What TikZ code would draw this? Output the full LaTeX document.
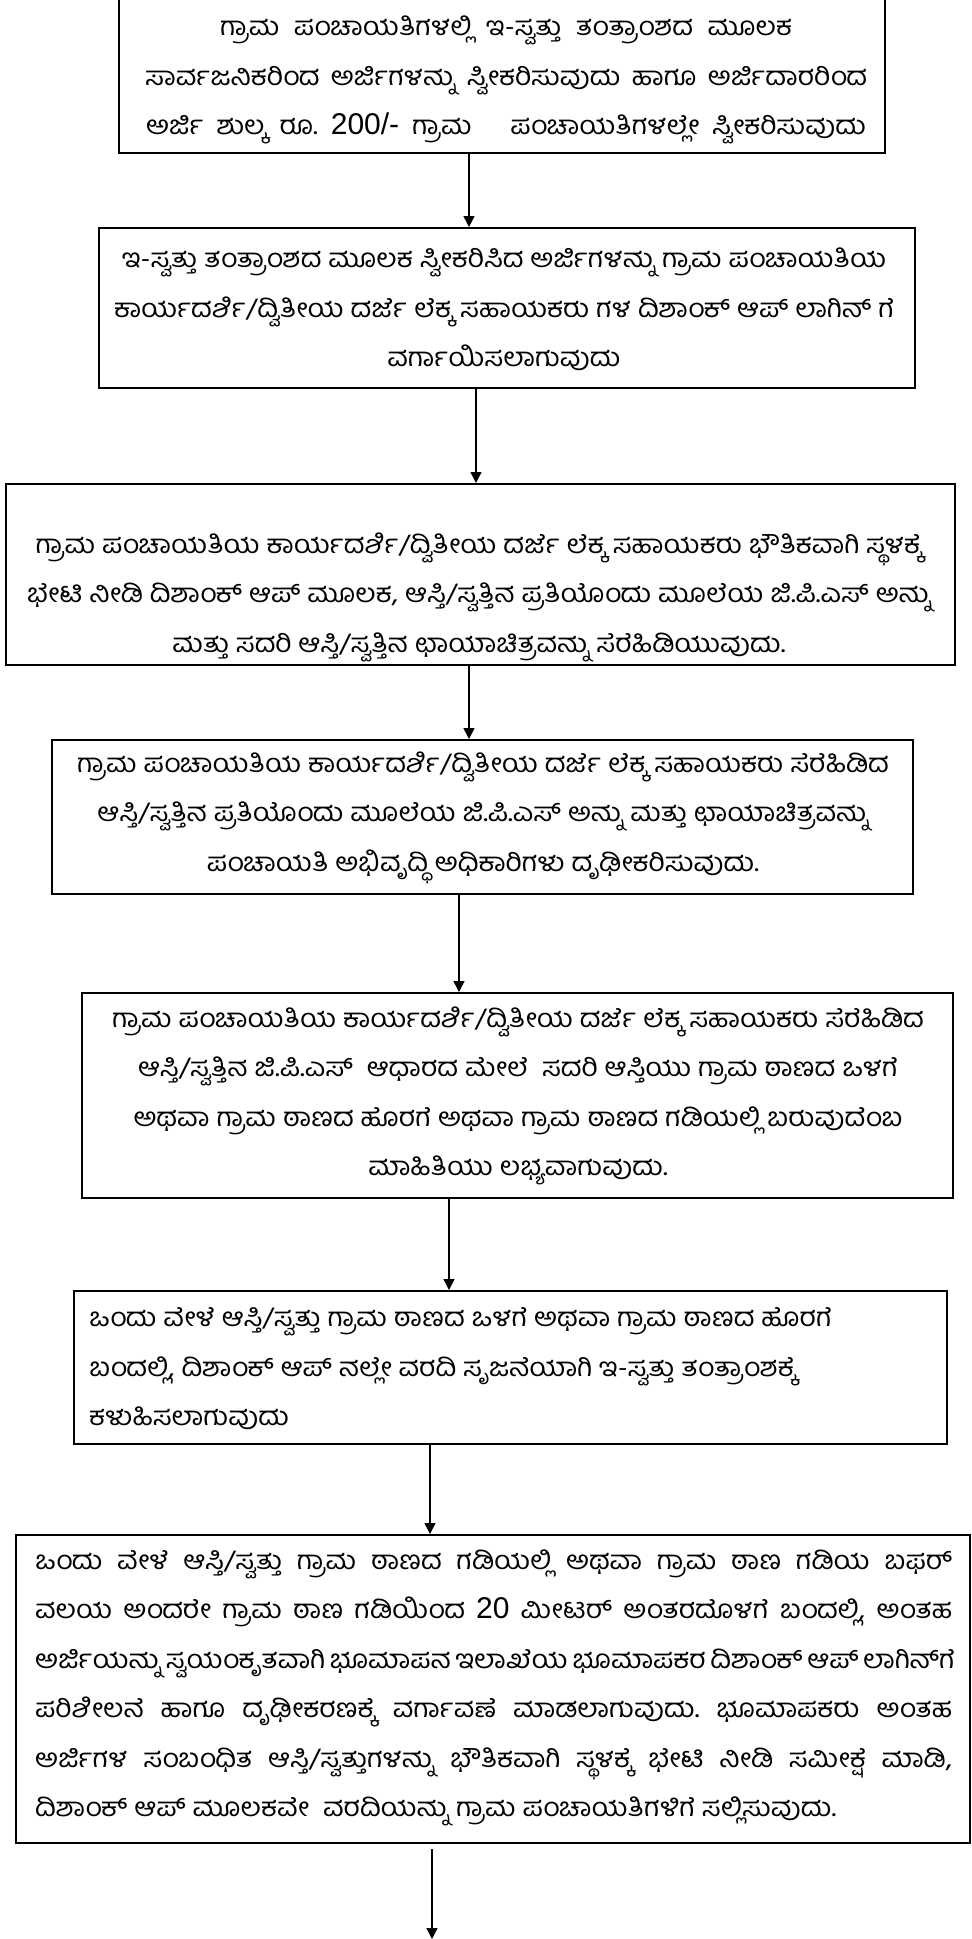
\documentclass[tikz,border=0pt]{standalone}
\usepackage{fontspec}
\newfontfamily\kn[Script=Kannada,FakeStretch=1.09]{Hind Mysuru}
\newfontfamily\latn{Liberation Sans}
\newcommand\num[1]{{\latn\fontsize{30}{49.5}\selectfont #1}}
\usetikzlibrary{arrows.meta}
\begin{document}
\frenchspacing
\begin{tikzpicture}[x=1pt,y=-1pt,
  box/.style={draw=black,line width=2pt,inner sep=0pt,rectangle},
  txt/.style={inner sep=0pt,align=center,font=\kn\fontsize{26}{49.5}\selectfont\frenchspacing},
  txtl/.style={inner sep=0pt,align=left,anchor=west,font=\kn\fontsize{26}{49.5}\selectfont\frenchspacing},
  arr/.style={line width=1.5pt,-{Triangle[width=11pt,length=11pt]}}]
\useasboundingbox (0,0) rectangle (972,1939);
% boxes
\node[box,minimum width=766,minimum height=156] (b1) at (502,75) {};
\node[box,minimum width=816,minimum height=160] (b2) at (507,308) {};
\node[box,minimum width=949,minimum height=181] (b3) at (480.5,574.5) {};
\node[box,minimum width=861,minimum height=154] (b4) at (482.5,817) {};
\node[box,minimum width=871,minimum height=205] (b5) at (517.5,1095.5) {};
\node[box,minimum width=873,minimum height=153] (b6) at (510.5,1367.5) {};
\node[box,minimum width=954,minimum height=308] (b7) at (493,1689) {};
% texts
\node[txt] (t1) at (506,80) {\makebox[572pt][s]{ಗ್ರಾಮ ಪಂಚಾಯತಿಗಳಲ್ಲಿ ಇ-ಸ್ವತ್ತು ತಂತ್ರಾಂಶದ ಮೂಲಕ}\\\makebox[722pt][s]{ಸಾರ್ವಜನಿಕರಿಂದ ಅರ್ಜಿಗಳನ್ನು ಸ್ವೀಕರಿಸುವುದು ಹಾಗೂ ಅರ್ಜಿದಾರರಿಂದ}\\\makebox[720pt][s]{ಅರ್ಜಿ ಶುಲ್ಕ ರೂ. \num{200/-} ಗ್ರಾಮ\ \ \ ಪಂಚಾಯತಿಗಳಲ್ಲೇ ಸ್ವೀಕರಿಸುವುದು}};
\node[txt] (t2) at (504,309.5) {ಇ-ಸ್ವತ್ತು ತಂತ್ರಾಂಶದ ಮೂಲಕ ಸ್ವೀಕರಿಸಿದ ಅರ್ಜಿಗಳನ್ನು ಗ್ರಾಮ ಪಂಚಾಯತಿಯ\\ಕಾರ್ಯದರ್ಶಿ/ದ್ವಿತೀಯ ದರ್ಜೆ ಲೆಕ್ಕ ಸಹಾಯಕರು ಗಳ ದಿಶಾಂಕ್ ಆಪ್ ಲಾಗಿನ್ ಗೆ\\ವರ್ಗಾಯಿಸಲಾಗುವುದು};
\node[txt] (t3) at (479,597) {ಗ್ರಾಮ ಪಂಚಾಯತಿಯ ಕಾರ್ಯದರ್ಶಿ/ದ್ವಿತೀಯ ದರ್ಜೆ ಲೆಕ್ಕ ಸಹಾಯಕರು ಭೌತಿಕವಾಗಿ ಸ್ಥಳಕ್ಕೆ\\ಭೇಟಿ ನೀಡಿ ದಿಶಾಂಕ್ ಆಪ್ ಮೂಲಕ, ಆಸ್ತಿ/ಸ್ವತ್ತಿನ ಪ್ರತಿಯೊಂದು ಮೂಲೆಯ ಜಿ.ಪಿ.ಎಸ್ ಅನ್ನು\\ಮತ್ತು ಸದರಿ ಆಸ್ತಿ/ಸ್ವತ್ತಿನ ಛಾಯಾಚಿತ್ರವನ್ನು ಸೆರೆಹಿಡಿಯುವುದು.};
\node[txt] (t4) at (483,817.5) {ಗ್ರಾಮ ಪಂಚಾಯತಿಯ ಕಾರ್ಯದರ್ಶಿ/ದ್ವಿತೀಯ ದರ್ಜೆ ಲೆಕ್ಕ ಸಹಾಯಕರು ಸೆರೆಹಿಡಿದ\\ಆಸ್ತಿ/ಸ್ವತ್ತಿನ ಪ್ರತಿಯೊಂದು ಮೂಲೆಯ ಜಿ.ಪಿ.ಎಸ್ ಅನ್ನು ಮತ್ತು ಛಾಯಾಚಿತ್ರವನ್ನು\\ಪಂಚಾಯತಿ ಅಭಿವೃದ್ಧಿ ಅಧಿಕಾರಿಗಳು ದೃಢೀಕರಿಸುವುದು.};
\node[txt] (t5) at (518,1096) {ಗ್ರಾಮ ಪಂಚಾಯತಿಯ ಕಾರ್ಯದರ್ಶಿ/ದ್ವಿತೀಯ ದರ್ಜೆ ಲೆಕ್ಕ ಸಹಾಯಕರು ಸೆರೆಹಿಡಿದ\\ಆಸ್ತಿ/ಸ್ವತ್ತಿನ ಜಿ.ಪಿ.ಎಸ್\ \ ಆಧಾರದ ಮೇಲೆ\ \ ಸದರಿ ಆಸ್ತಿಯು ಗ್ರಾಮ ಠಾಣದ ಒಳಗೆ\\ಅಥವಾ ಗ್ರಾಮ ಠಾಣದ ಹೊರಗೆ ಅಥವಾ ಗ್ರಾಮ ಠಾಣದ ಗಡಿಯಲ್ಲಿ ಬರುವುದೆಂಬ\\ಮಾಹಿತಿಯು ಲಭ್ಯವಾಗುವುದು.};
\node[txtl] (t6) at (89,1369) {ಒಂದು ವೇಳೆ ಆಸ್ತಿ/ಸ್ವತ್ತು ಗ್ರಾಮ ಠಾಣದ ಒಳಗೆ ಅಥವಾ ಗ್ರಾಮ ಠಾಣದ ಹೊರಗೆ\\ಬಂದಲ್ಲಿ, ದಿಶಾಂಕ್ ಆಪ್ ನಲ್ಲೇ ವರದಿ ಸೃಜನೆಯಾಗಿ ಇ-ಸ್ವತ್ತು ತಂತ್ರಾಂಶಕ್ಕೆ\\ಕಳುಹಿಸಲಾಗುವುದು};
\node[txtl] (t7) at (35,1688) {\makebox[917pt][s]{ಒಂದು ವೇಳೆ ಆಸ್ತಿ/ಸ್ವತ್ತು ಗ್ರಾಮ ಠಾಣದ ಗಡಿಯಲ್ಲಿ ಅಥವಾ ಗ್ರಾಮ ಠಾಣ ಗಡಿಯ ಬಫರ್}\\\makebox[917pt][s]{ವಲಯ ಅಂದರೇ ಗ್ರಾಮ ಠಾಣ ಗಡಿಯಿಂದ \num{20} ಮೀಟರ್ ಅಂತರದೊಳಗೆ ಬಂದಲ್ಲಿ, ಅಂತಹ}\\\makebox[917pt][s]{ಅರ್ಜಿಯನ್ನು ಸ್ವಯಂಕೃತವಾಗಿ ಭೂಮಾಪನ ಇಲಾಖೆಯ ಭೂಮಾಪಕರ ದಿಶಾಂಕ್ ಆಪ್ ಲಾಗಿನ್^^^^200cಗೆ}\\\makebox[917pt][s]{ಪರಿಶೀಲನೆ ಹಾಗೂ ದೃಢೀಕರಣಕ್ಕೆ ವರ್ಗಾವಣೆ ಮಾಡಲಾಗುವುದು. ಭೂಮಾಪಕರು ಅಂತಹ}\\\makebox[917pt][s]{ಅರ್ಜಿಗಳ ಸಂಬಂಧಿತ ಆಸ್ತಿ/ಸ್ವತ್ತುಗಳನ್ನು ಭೌತಿಕವಾಗಿ ಸ್ಥಳಕ್ಕೆ ಭೇಟಿ ನೀಡಿ ಸಮೀಕ್ಷೆ ಮಾಡಿ,}\\ದಿಶಾಂಕ್ ಆಪ್ ಮೂಲಕವೇ\ \ ವರದಿಯನ್ನು ಗ್ರಾಮ ಪಂಚಾಯತಿಗಳಿಗೆ ಸಲ್ಲಿಸುವುದು.};
% arrows
\coordinate (x1) at (469,0);
\coordinate (x2) at (476,0);
\coordinate (x3) at (469,0);
\coordinate (x4) at (459,0);
\coordinate (x5) at (449,0);
\coordinate (x6) at (430,0);
\coordinate (x7) at (432,0);
\coordinate (end) at (432,1939);
\draw[arr] (b1.south -| x1) -- (b2.north -| x1);
\draw[arr] (b2.south -| x2) -- (b3.north -| x2);
\draw[arr] (b3.south -| x3) -- (b4.north -| x3);
\draw[arr] (b4.south -| x4) -- (b5.north -| x4);
\draw[arr] (b5.south -| x5) -- (b6.north -| x5);
\draw[arr] (b6.south -| x6) -- (b7.north -| x6);
\draw[arr] ([yshift=-5pt]b7.south -| x7) -- (end);
\end{tikzpicture}
\end{document}
